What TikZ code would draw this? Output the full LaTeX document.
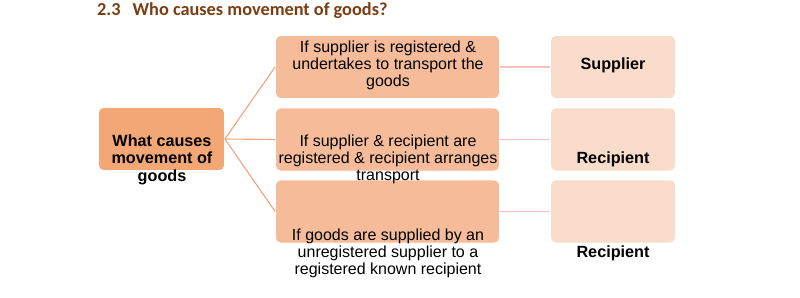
\documentclass[tikz,border=0pt]{standalone}
\usepackage{fontspec}
\setmainfont{Liberation Sans}
\newfontfamily\titlefont{Carlito}
\definecolor{leftfill}{HTML}{F2A774}
\definecolor{midfill}{HTML}{F6BC99}
\definecolor{rightfill}{HTML}{FADCCA}
\definecolor{linkA}{HTML}{F2A47F}
\definecolor{linkB}{HTML}{F6C2BA}
\definecolor{titlecol}{HTML}{7A3E12}
\tikzset{
  boxL/.style={draw=white, line width=0.8pt, fill=leftfill, rounded corners=5pt, minimum width=126pt, minimum height=63pt, inner sep=0pt},
  boxM/.style={draw=white, line width=0.8pt, fill=midfill, rounded corners=5pt, minimum width=224pt, minimum height=63pt, inner sep=0pt},
  boxR/.style={draw=white, line width=0.8pt, fill=rightfill, rounded corners=5pt, minimum width=125pt, minimum height=63pt, inner sep=0pt},
  txt/.style={align=center, font=\fontsize{16pt}{17pt}\selectfont, inner sep=0pt},
  btxt/.style={align=center, font=\fontsize{16.2pt}{17.5pt}\selectfont\bfseries, inner sep=0pt},
  linkL/.style={draw=linkA, line width=1.1pt},
  linkR/.style={draw=linkB, line width=1.3pt}
}
\begin{document}
\begin{tikzpicture}[x=1pt,y=-1pt]
\useasboundingbox (0,0) rectangle (800,297);
\node[anchor=west, inner sep=0pt, text=titlecol, font=\titlefont\fontsize{18.3pt}{20pt}\selectfont\bfseries] (title) at (97,11) {2.3\hspace{12pt}Who causes movement of goods?};
% boxes
\node[boxL] (L) at (161.5,139) {};
\node[boxM] (M1) at (387.5,67) {};
\node[boxM] (M2) at (387.5,139.5) {};
\node[boxM] (M3) at (387.5,211.5) {};
\node[boxR] (R1) at (613,67) {};
\node[boxR] (R2) at (613,139.5) {};
\node[boxR] (R3) at (613,211.5) {};
% connectors
\draw[linkL] (L.east) -- (M1.west);
\draw[linkL] (L.east) -- (M2.west);
\draw[linkL] (L.east) -- (M3.west);
\draw[linkR] (M1.east) -- (R1.west);
\draw[linkR] (M2.east) -- (R2.west);
\draw[linkR] (M3.east) -- (R3.west);
% texts
\node[btxt] (tL) at (162,159.5) {What causes\\movement of\\goods};
\node[txt] (t1) at (388,65) {If supplier is registered \&\\undertakes to transport the\\goods};
\node[txt] (t2) at (388,159.5) {If supplier \& recipient are\\registered \& recipient arranges\\transport};
\node[txt] (t3) at (388,253) {If goods are supplied by an\\unregistered supplier to a\\registered known recipient};
\node[btxt] (r1) at (613,65.5) {Supplier};
\node[btxt] (r2) at (613,159) {Recipient};
\node[btxt] (r3) at (613,253) {Recipient};
\end{tikzpicture}
\end{document}
